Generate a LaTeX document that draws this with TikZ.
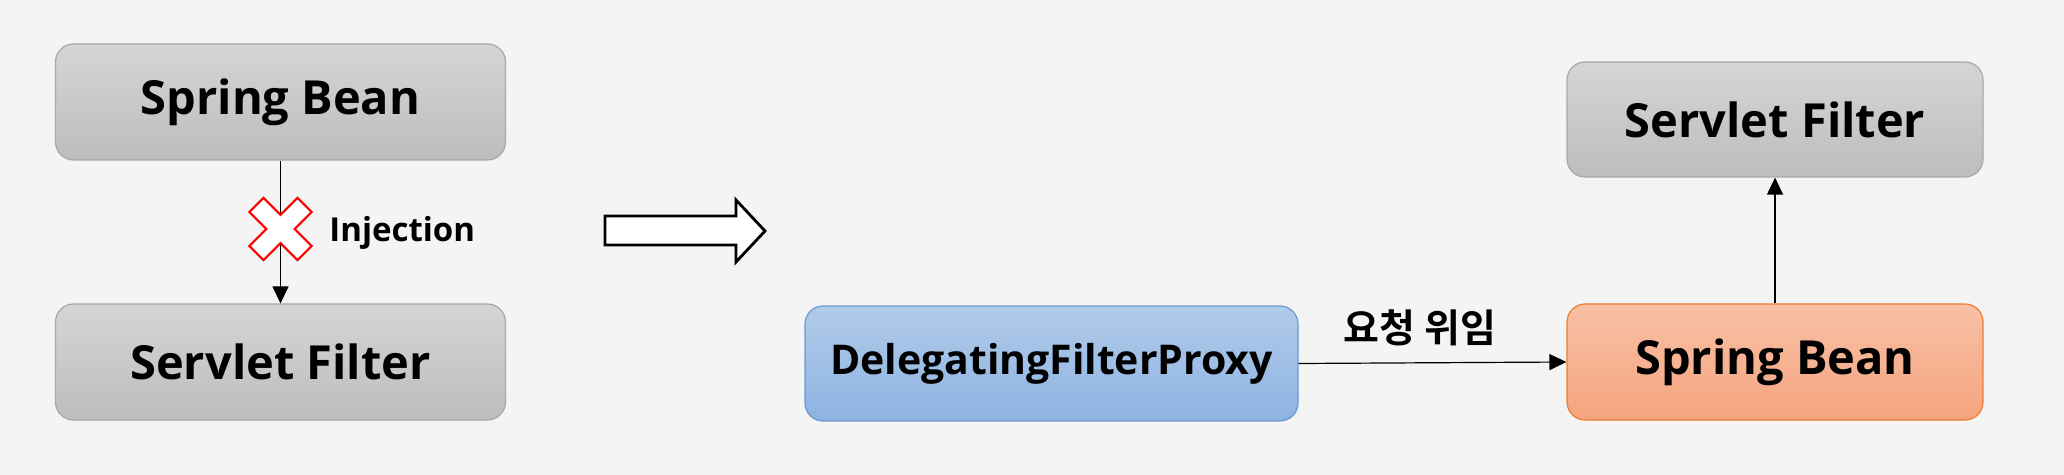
\documentclass[tikz,border=0pt]{standalone}
\usepackage{fontspec}
\setmainfont{Open Sans}
\newfontfamily\kr{Noto Sans CJK KR}[BoldFont={Noto Sans CJK KR Bold}]
\usetikzlibrary{arrows.meta}
\definecolor{bgc}{HTML}{F4F4F4}
\definecolor{grayT}{HTML}{D5D5D5}
\definecolor{grayB}{HTML}{BDBDBD}
\definecolor{grayD}{HTML}{A8A8A8}
\definecolor{blueT}{HTML}{B1CBE9}
\definecolor{blueB}{HTML}{8DB3E2}
\definecolor{blueD}{HTML}{6A9AD2}
\definecolor{orT}{HTML}{F8C0A6}
\definecolor{orB}{HTML}{F5A47E}
\definecolor{orD}{HTML}{ED7D31}
\tikzset{
  box/.style={rounded corners=9pt, line width=0.6pt, inner sep=0pt, align=center,
    font=\fontsize{23.5}{28}\selectfont\bfseries},
  graybox/.style={box, draw=grayD, top color=grayT, bottom color=grayB},
  bluebox/.style={box, draw=blueD, top color=blueT, bottom color=blueB},
  orbox/.style={box, draw=orD, top color=orT, bottom color=orB},
  conn/.style={line width=0.6pt, -{Triangle[length=8.5pt,width=8pt]}},
  lbl/.style={inner sep=0pt, font=\fontsize{16.5}{20}\selectfont\bfseries}
}
\begin{document}
\begin{tikzpicture}[x=0.5pt,y=-0.5pt]
\fill[bgc] (0,0) rectangle (2064,475);
\useasboundingbox (0,0) rectangle (2064,475);
% left side
\node[graybox, minimum width=225pt, minimum height=58pt] (sb1) at (280.5,102) {Spring Bean};
\node[graybox, minimum width=225pt, minimum height=58pt] (sf1) at (280.5,362) {Servlet Filter};
\draw[conn] (sb1.south) -- (sf1.north);
\begin{scope}[shift={(280.5,229)}, rotate=45]
\draw[red, line width=1.1pt, fill=white, line join=miter]
  (10,10) -- (34,10) -- (34,-10) -- (10,-10) -- (10,-34) -- (-10,-34) -- (-10,-10)
  -- (-34,-10) -- (-34,10) -- (-10,10) -- (-10,34) -- (10,34) -- cycle;
\end{scope}
\node[lbl, anchor=west] (inj) at (329,233) {Injection};
% big hollow arrow
\draw[line width=1.4pt, fill=white, line join=miter]
  (605,216) -- (736,216) -- (736,200) -- (765,231) -- (736,262) -- (736,245) -- (605,245) -- cycle;
% right side
\node[bluebox, minimum width=246.5pt, minimum height=57.5pt, font=\fontsize{20.5}{24}\selectfont\bfseries] (dfp) at (1051.5,363.5) {DelegatingFilterProxy};
\node[orbox, minimum width=208pt, minimum height=58pt] (sb2) at (1775,362) {Spring Bean};
\node[graybox, minimum width=208pt, minimum height=57.5pt] (sf2) at (1775,119.5) {Servlet Filter};
\draw[conn] (dfp.east) -- (sb2.west);
\draw[conn] (sb2.north) -- (sf2.south);
\node[inner sep=0pt, font=\kr\fontsize{19.5}{23}\selectfont\bfseries] (del) at (1420,328) {요청 위임};
\end{tikzpicture}
\end{document}
